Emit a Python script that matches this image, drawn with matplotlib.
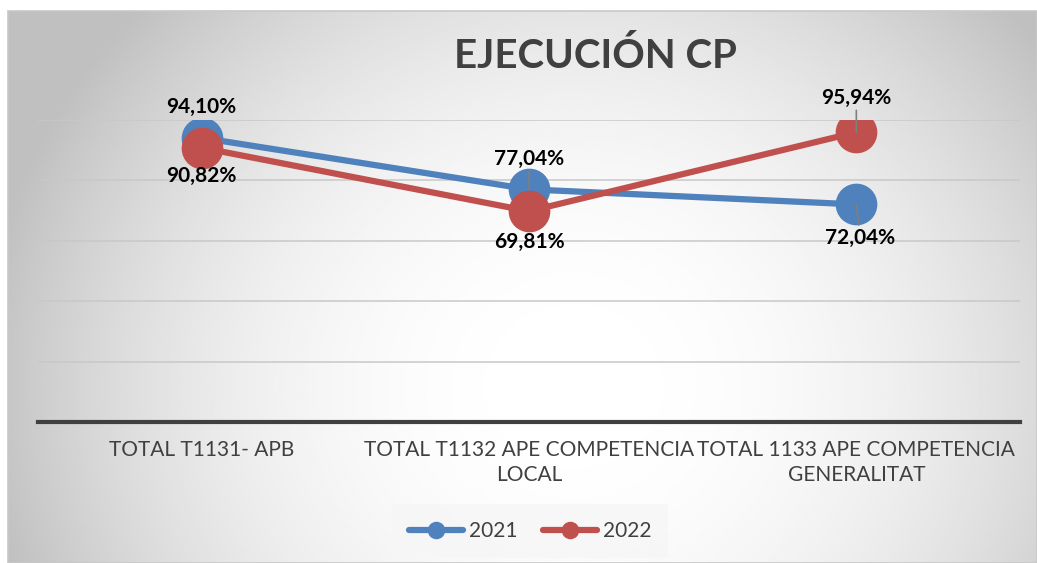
import numpy as np
import matplotlib
matplotlib.use('Agg')
import matplotlib.pyplot as plt
from matplotlib.patches import Rectangle

plt.rcParams['font.family'] = ['Lato', 'DejaVu Sans']

# data
categorias = ['TOTAL T1131- APB',
              'TOTAL T1132 APE COMPETENCIA\nLOCAL',
              'TOTAL 1133 APE COMPETENCIA\nGENERALITAT']
v2021 = [94.10, 77.04, 72.04]
v2022 = [90.82, 69.81, 95.94]
series = ['2021', '2022']

W, H = 1037, 563
fig = plt.figure(figsize=(W / 100, H / 100), dpi=100)
fig.patch.set_facecolor('white')

# chart area background: radial gradient white -> grey
x0, y0 = 8, 11
bg = fig.add_axes([x0 / W, 0, 1 - x0 / W, 1 - y0 / H])
bg.set_axis_off()
gx, gy = np.meshgrid(np.linspace(0, 1, 400), np.linspace(0, 1, 220))
cx, cy = 0.55, 0.68
r = np.sqrt(((gx - cx) / 0.55) ** 2 + ((gy - cy) / 0.95) ** 2)
shade = np.clip(1.0 - 0.22 * r ** 2.2, 0.75, 1.0)
bg.imshow(shade, cmap='gray', vmin=0, vmax=1, aspect='auto',
          extent=[0, 1, 0, 1], origin='upper')
bg.add_patch(Rectangle((0, 0), 1, 1, transform=bg.transAxes, fill=False,
                       edgecolor='#c8c8c8', linewidth=1.2, clip_on=False))

ax = fig.add_axes([38 / W, 1 - 422 / H, (1020 - 38) / W, (422 - 120) / H])
ax.set_facecolor('none')

x = np.arange(len(categorias))
azul, rojo = '#4f81bd', '#c0504d'
ax.plot(x, v2021, color=azul, lw=4.5, marker='o', ms=29, label=series[0],
        solid_capstyle='round', zorder=3)
ax.plot(x, v2022, color=rojo, lw=4.5, marker='o', ms=29, label=series[1],
        solid_capstyle='round', zorder=4)

ax.set_xlim(-0.5, 2.5)
ax.set_ylim(0, 100)
ax.set_yticks([0, 20, 40, 60, 80, 100])
ax.yaxis.grid(True, color='#c8c8c8', lw=1.1)
ax.set_axisbelow(True)
for s in ['top', 'right', 'left']:
    ax.spines[s].set_visible(False)
ax.spines['bottom'].set_color('#404040')
ax.spines['bottom'].set_linewidth(3)
ax.tick_params(axis='y', left=False, labelleft=False)
ax.tick_params(axis='x', length=0, pad=13)
ax.set_xticks(x)
ax.set_xticklabels(categorias, fontsize=15, color='#404040', linespacing=1.3)


def pct(v):
    return f'{v:.2f}%'.replace('.', ',')


# label offsets (points): positive = above
off2021 = [22, 22, -24]
off2022 = [-20, -22, 25]
leader2021 = [False, True, True]
leader2022 = [False, False, True]
for vals, offs, leads in [(v2021, off2021, leader2021), (v2022, off2022, leader2022)]:
    for i, v in enumerate(vals):
        dx = 3 if offs[i] < 0 and leads[i] else 0
        ap = None
        if leads[i]:
            ap = dict(arrowstyle='-', color='#7f7f7f', lw=1.2, shrinkA=0, shrinkB=0)
        ax.annotate(pct(v), (i, v), xytext=(dx, offs[i]), textcoords='offset points',
                    ha='center', va='center', fontsize=15, fontweight='bold',
                    color='black', zorder=6, arrowprops=ap)

fig.text(595 / W, 1 - 56 / H, 'EJECUCIÓN CP', ha='center', va='center',
         fontsize=29, fontweight='bold', color='#404040')

leg = fig.legend(loc='center', bbox_to_anchor=(530 / W, 1 - 531 / H), ncol=2,
                 frameon=True, fontsize=15, markerscale=0.4, handlelength=2.6,
                 columnspacing=1.2, handletextpad=0.3, borderpad=0.5)
leg.get_frame().set_facecolor('#f6f6f6')
leg.get_frame().set_edgecolor('none')
leg.get_frame().set_boxstyle('square')
for t in leg.get_texts():
    t.set_color('#404040')

fig.savefig('out.png', dpi=100, facecolor='white')
